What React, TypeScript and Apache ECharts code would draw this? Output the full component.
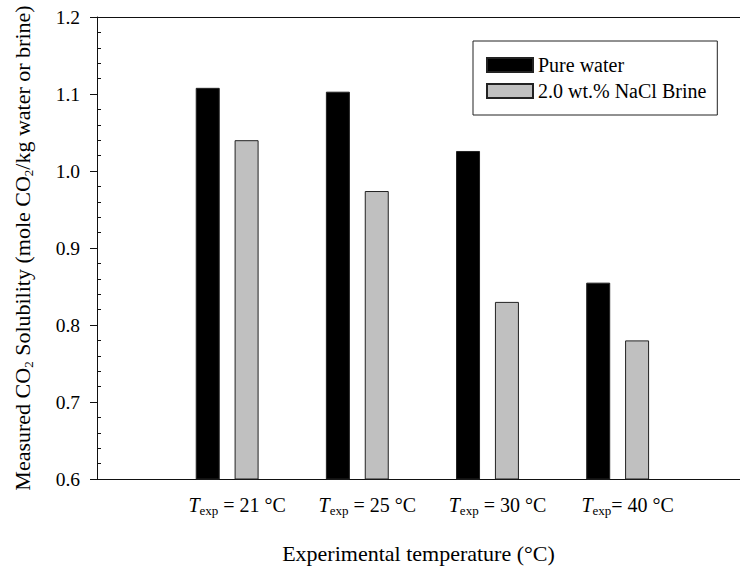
import React, { useEffect, useRef } from 'react';
import * as echarts from 'echarts';

const positions = [1, 2, 3, 4];
const tempLabels = [' = 21 °C', ' = 25 °C', ' = 30 °C', '= 40 °C'];
const pureWater = [1.108, 1.103, 1.026, 0.855];
const brine = [1.04, 0.974, 0.83, 0.78];
const seriesNames = ['Pure water', '2.0 wt.% NaCl Brine'];
const yMin = 0.6;
const yMax = 1.2;
const yStep = 0.1;
const minorValues = [0.62, 0.64, 0.66, 0.68, 0.72, 0.74, 0.76, 0.78, 0.82, 0.84, 0.86, 0.88, 0.92, 0.94, 0.96, 0.98, 1.02, 1.04, 1.06, 1.08, 1.12, 1.14, 1.16, 1.18];

const FONT = '"Liberation Serif", "Times New Roman", serif';
const AX = '#111';

export default function App() {
  const ref = useRef<HTMLDivElement>(null);
  useEffect(() => {
    if (!ref.current) return;
    const chart = echarts.init(ref.current, null, { renderer: 'svg' });
    const option: any = {
      animation: false,
      backgroundColor: '#fff',
      textStyle: { fontFamily: FONT, color: '#000' },
      grid: { left: 97, right: 0, top: 17, bottom: 85, containLabel: false },
      legend: {
        orient: 'vertical',
        left: 473,
        top: 41,
        padding: [14, 11, 14, 13],
        itemGap: 6,
        itemWidth: 46,
        itemHeight: 14,
        itemTextGap: 10,
        borderColor: '#222',
        borderWidth: 1,
        textStyle: { fontFamily: FONT, fontSize: 20, color: '#000' },
        data: seriesNames.map((n) => ({ name: n, icon: 'rect' })),
      },
      xAxis: [
        {
          type: 'value',
          min: 0,
          max: 4.94,
          interval: 1,
          position: 'bottom',
          axisLine: { show: true, lineStyle: { color: AX, width: 1 } },
          axisTick: { show: false },
          splitLine: { show: false },
          axisLabel: {
            customValues: positions,
            margin: 14,
            padding: [0, 0, 0, 20],
            formatter: (v: number) => {
              const i = positions.indexOf(Math.round(v * 1000) / 1000);
              if (i < 0) return '';
              return '{t|T}{s|exp}{n|' + tempLabels[i] + '}';
            },
            rich: {
              t: { fontFamily: FONT, fontSize: 20, fontStyle: 'italic', color: '#000', lineHeight: 24 },
              s: { fontFamily: FONT, fontSize: 13, color: '#000', lineHeight: 12, verticalAlign: 'bottom' },
              n: { fontFamily: FONT, fontSize: 20, color: '#000', lineHeight: 24 },
            },
          },
          name: 'Experimental temperature (°C)',
          nameLocation: 'middle',
          nameGap: 63,
          nameTextStyle: { fontFamily: FONT, fontSize: 22, color: '#000' },
        },
        {
          type: 'value',
          min: 0,
          max: 1,
          position: 'top',
          axisLine: { show: true, lineStyle: { color: AX, width: 1 } },
          axisTick: { show: false },
          axisLabel: { show: false },
          splitLine: { show: false },
        },
      ],
      yAxis: [
        {
          type: 'value',
          min: yMin,
          max: yMax,
          interval: yStep,
          position: 'left',
          axisLine: { show: true, lineStyle: { color: AX, width: 1 } },
          axisTick: { show: true, inside: false, length: 7, lineStyle: { color: AX, width: 1 } },
          splitLine: { show: false },
          axisLabel: {
            margin: 17,
            fontFamily: FONT,
            fontSize: 19.5,
            color: '#000',
            formatter: (v: number) => v.toFixed(1),
          },
          name: '{n|Measured CO}{s|2}{n| Solubility (mole CO}{s|2}{n|/kg water or brine)}',
          nameLocation: 'middle',
          nameGap: 62,
          nameTextStyle: {
            fontFamily: FONT,
            color: '#000',
            rich: {
              n: { fontFamily: FONT, fontSize: 22, color: '#000', lineHeight: 26 },
              s: { fontFamily: FONT, fontSize: 13, color: '#000', lineHeight: 12, verticalAlign: 'bottom' },
            },
          },
        },
        {
          type: 'value',
          min: yMin,
          max: yMax,
          interval: 0.02,
          position: 'left',
          axisLine: { show: false },
          axisTick: {
            show: true,
            inside: true,
            length: 4,
            customValues: minorValues,
            lineStyle: { color: AX, width: 1 },
          },
          axisLabel: { show: false },
          splitLine: { show: false },
        },
      ],
      series: [
        {
          name: seriesNames[0],
          type: 'bar',
          xAxisIndex: 0,
          yAxisIndex: 0,
          barWidth: 24,
          barGap: '62%',
          itemStyle: { color: '#000', borderColor: '#222', borderWidth: 1 },
          data: positions.map((p, i) => [p, pureWater[i]]),
        },
        {
          name: seriesNames[1],
          type: 'bar',
          xAxisIndex: 0,
          yAxisIndex: 0,
          barWidth: 24,
          barGap: '62%',
          itemStyle: { color: '#c0c0c0', borderColor: '#222', borderWidth: 1 },
          data: positions.map((p, i) => [p, brine[i]]),
        },
      ],
    };
    chart.setOption(option);
    return () => chart.dispose();
  }, []);
  return (
    <div
      ref={ref}
      style={{ position: 'absolute', left: 0, top: 0, width: 740, height: 569, background: '#fff' }}
    />
  );
}
